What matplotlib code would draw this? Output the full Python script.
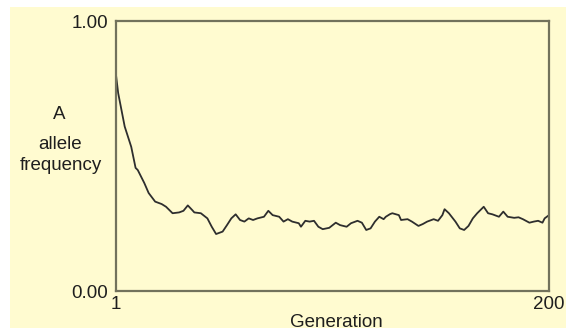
import matplotlib.pyplot as plt
from matplotlib.patches import Rectangle

# generation / frequency pairs
generation = [1, 2, 5, 8, 10, 11, 14, 16, 19, 22, 24, 27, 30, 32, 34, 36, 37, 40,
              43, 45, 47, 50, 52, 54, 56, 58, 60, 62, 64, 66, 69, 71, 73, 76, 78,
              80, 82, 85, 86, 88, 90, 92, 94, 96, 99, 102, 104, 107, 109, 112,
              114, 116, 118, 120, 122, 124, 125, 127, 128, 131, 132, 135, 137,
              140, 142, 144, 147, 149, 151, 152, 154, 157, 159, 161, 163, 165,
              167, 170, 172, 174, 177, 179, 181, 184, 186, 188, 191, 193, 195,
              197, 198, 200]
frequency = [0.800, 0.733, 0.609, 0.534, 0.456, 0.448, 0.400, 0.363, 0.331, 0.322,
             0.312, 0.288, 0.291, 0.297, 0.317, 0.300, 0.291, 0.288, 0.269, 0.238,
             0.211, 0.220, 0.244, 0.269, 0.284, 0.263, 0.257, 0.269, 0.263, 0.269,
             0.275, 0.297, 0.281, 0.275, 0.257, 0.266, 0.257, 0.251, 0.238, 0.260,
             0.257, 0.260, 0.238, 0.229, 0.234, 0.253, 0.244, 0.238, 0.251, 0.260,
             0.253, 0.226, 0.232, 0.257, 0.275, 0.266, 0.275, 0.285, 0.288, 0.281,
             0.263, 0.266, 0.257, 0.241, 0.248, 0.257, 0.266, 0.260, 0.281, 0.303,
             0.288, 0.257, 0.232, 0.226, 0.241, 0.269, 0.288, 0.312, 0.288, 0.284,
             0.275, 0.294, 0.275, 0.271, 0.273, 0.266, 0.253, 0.257, 0.260, 0.253,
             0.269, 0.281]

x_ticks = [1, 200]
x_ticklabels = ["1", "200"]
y_ticks = [0, 1]
y_ticklabels = ["0.00", "1.00"]

W, H = 566, 331
bg = "#fffbd0"
font = "Liberation Sans"
ink = "#1e1e1e"

fig = plt.figure(figsize=(W / 100, H / 100), dpi=100)
fig.patch.set_facecolor("white")
fig.patches.append(Rectangle((10 / W, 3 / H), 1, (H - 7 - 3) / H,
                             transform=fig.transFigure, facecolor=bg,
                             edgecolor="none", zorder=-1))

ax = fig.add_axes([116 / W, (H - 291) / H, (549 - 116) / W, (291 - 21) / H])
ax.set_facecolor(bg)
ax.plot(generation, frequency, color="#2e2e2e", lw=1.3)

ax.set_xlim(1, 200)
ax.set_ylim(0, 1)
for s in ax.spines.values():
    s.set_color("#72725c")
    s.set_linewidth(1.6)

ax.set_xticks(x_ticks)
ax.set_xticklabels(x_ticklabels, fontsize=13.5, family=font, color=ink)
ax.set_yticks(y_ticks)
ax.set_yticklabels(y_ticklabels, fontsize=13.5, family=font, color=ink)
ax.tick_params(length=0)
ax.tick_params(axis="y", pad=5.5)
ax.tick_params(axis="x", pad=3.5)

fig.text(336 / W, (H - 327) / H, "Generation", ha="center", va="baseline",
         fontsize=13.5, family=font, color=ink)
fig.text(59 / W, (H - 119) / H, "A", ha="center", va="baseline",
         fontsize=13.5, family=font, color=ink)
fig.text(60 / W, (H - 149) / H, "allele", ha="center", va="baseline",
         fontsize=13.5, family=font, color=ink)
fig.text(61 / W, (H - 170) / H, "frequency", ha="center", va="baseline",
         fontsize=13.5, family=font, color=ink)

fig.savefig("out.png", dpi=100)
